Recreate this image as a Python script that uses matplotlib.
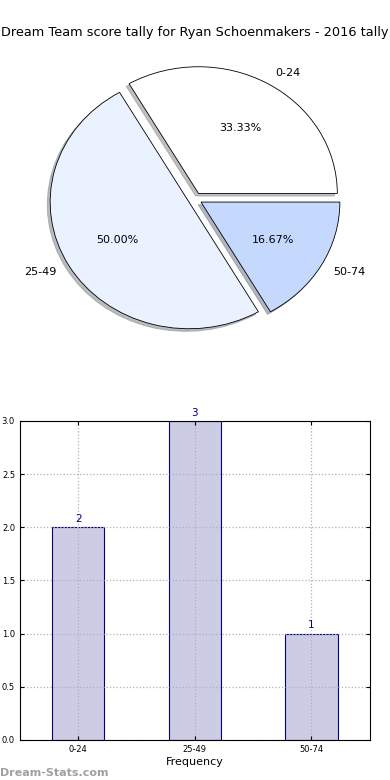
import matplotlib
matplotlib.use('Agg')
import matplotlib.pyplot as plt

title = 'Dream Team score tally for Ryan Schoenmakers - 2016 tally'
categories = ['0-24', '25-49', '50-74']
counts = [2, 3, 1]
pie_colors = ['#ffffff', '#eaf1ff', '#c5d9ff']


def draw_pie(ax):
    ax.pie(counts, labels=categories, colors=pie_colors, explode=[0.05] * 3,
           autopct='%1.2f%%', startangle=0,
           shadow={'ox': -0.015, 'oy': -0.015, 'shade': 0.5},
           wedgeprops={'edgecolor': 'black', 'linewidth': 0.6},
           textprops={'fontsize': 8})
    ax.set_aspect('auto')
    ax.set_xlim(-1.25, 1.25)
    ax.set_ylim(-1.25, 1.25)
    ax.set_title(title, fontsize=9.3, pad=3)


def draw_bars(ax):
    x = range(len(categories))
    bars = ax.bar(x, counts, width=0.45, color='#ccccE5', edgecolor='#000080',
                  linewidth=0.8, zorder=1)
    for b, v in zip(bars, counts):
        ax.text(b.get_x() + b.get_width() / 2, v + 0.03, str(v), ha='center',
                va='bottom', fontsize=7.5, color='#000080')
    ax.set_xticks(list(x))
    ax.set_xticklabels(categories)
    ax.set_xlim(-0.5, 2.5)
    ax.set_ylim(0, 3.0)
    ax.set_yticks([0.0, 0.5, 1.0, 1.5, 2.0, 2.5, 3.0])
    ax.tick_params(labelsize=6, direction='in', length=3, top=True, right=True)
    ax.grid(True, linestyle=':', color='#b0b0b0', linewidth=0.9, zorder=3)
    ax.set_axisbelow(False)
    for sp in ax.spines.values():
        sp.set_zorder(5)
    ax.set_xlabel('Frequency', fontsize=8, labelpad=2)


fig = plt.figure(figsize=(3.9, 7.8), dpi=100)
ax1 = fig.add_axes([0.055, 0.542, 0.89, 0.406])
ax1.axis('off')
draw_pie(ax1)
ax2 = fig.add_axes([0.051, 0.0513, 0.897, 0.409])
draw_bars(ax2)
fig.text(0.0, 0.003, 'Dream-Stats.com', fontsize=8, color='#a0a0a0',
         fontweight='bold', ha='left', va='bottom')
fig.savefig('out.png', dpi=100)
